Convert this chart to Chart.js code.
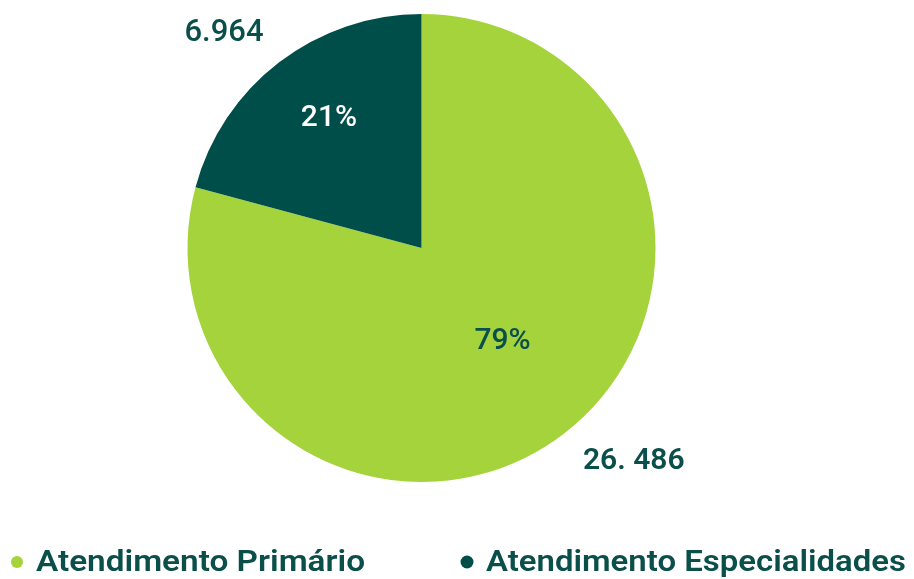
<!DOCTYPE html>
<html><head><meta charset="utf-8">
<script src="https://cdn.jsdelivr.net/npm/chart.js@4.4.1/dist/chart.umd.min.js"></script>
<style>html,body{margin:0;padding:0;background:#fff;}#wrap{width:914px;height:579px;position:relative}canvas{display:block}</style>
</head><body><div id="wrap"><canvas id="c" width="914" height="579"></canvas></div>
<script>
const categories = ['Atendimento Primário', 'Atendimento Especialidades'];
const values = [26486, 6964];
const valueLabels = ['26. 486', '6.964'];
const percentLabels = ['79%', '21%'];

const sliceColors = ['#A4D33B', '#004E4A'];
const textDark = '#0B4F4B';
const FONT = 'Roboto, "Noto Sans", sans-serif';

// label placement (style only): angle offset (deg) and radius fraction
const pctPlace = [{d: -4.3, f: 0.52, color: textDark, size: 30, weight: 500},
                  {d: 2.5, f: 0.69, color: '#ffffff', size: 30, weight: 500}];
const valPlace = [{d: -7.8, f: 1.277, size: 30, weight: 600},
                  {d: -4.7, f: 1.257, size: 31, weight: 500}];

function drawCentered(ctx, text, cx, cy, font, color) {
  ctx.font = font;
  ctx.fillStyle = color;
  ctx.textAlign = 'center';
  ctx.textBaseline = 'alphabetic';
  const m = ctx.measureText('0');
  const cap = m.actualBoundingBoxAscent;
  ctx.fillText(text, cx, cy + cap / 2);
}

const labelPlugin = {
  id: 'labels',
  afterDraw(chart) {
    const ctx = chart.ctx;
    const meta = chart.getDatasetMeta(0);
    ctx.save();
    meta.data.forEach((arc, i) => {
      const p = arc.getProps(['x', 'y', 'startAngle', 'endAngle', 'outerRadius'], true);
      const mid = (p.startAngle + p.endAngle) / 2;
      const a1 = mid + pctPlace[i].d * Math.PI / 180;
      const r1 = p.outerRadius * pctPlace[i].f;
      drawCentered(ctx, percentLabels[i], p.x + Math.cos(a1) * r1, p.y + Math.sin(a1) * r1,
        `${pctPlace[i].weight} ${pctPlace[i].size}px ${FONT}`, pctPlace[i].color);
      const a2 = mid + valPlace[i].d * Math.PI / 180;
      const r2 = p.outerRadius * valPlace[i].f;
      drawCentered(ctx, valueLabels[i], p.x + Math.cos(a2) * r2, p.y + Math.sin(a2) * r2,
        `${valPlace[i].weight} ${valPlace[i].size}px ${FONT}`, textDark);
    });
    // legend
    const legendItems = [{dotX: 17, dotR: 6, textX: 36, width: 329}, {dotX: 467, dotR: 6.5, textX: 486, width: 420}];
    const baseY = 571;
    categories.forEach((cat, i) => {
      const it = legendItems[i];
      ctx.beginPath();
      ctx.fillStyle = sliceColors[i];
      ctx.arc(it.dotX, 562, it.dotR, 0, Math.PI * 2);
      ctx.fill();
      ctx.font = `600 30px ${FONT}`;
      ctx.fillStyle = textDark;
      ctx.textAlign = 'left';
      ctx.textBaseline = 'alphabetic';
      const w = ctx.measureText(cat).width;
      ctx.save();
      ctx.translate(it.textX, baseY);
      ctx.scale(it.width / w, 1);
      ctx.fillText(cat, 0, 0);
      ctx.restore();
    });
    ctx.restore();
  }
};

new Chart(document.getElementById('c'), {
  type: 'pie',
  data: {
    labels: categories,
    datasets: [{data: values, backgroundColor: sliceColors, borderWidth: 0, hoverOffset: 0}]
  },
  options: {
    responsive: false,
    animation: false,
    layout: {padding: {top: 14, bottom: 97, left: 100, right: 171}},
    plugins: {legend: {display: false}, tooltip: {enabled: false}}
  },
  plugins: [labelPlugin]
});
</script></body></html>
